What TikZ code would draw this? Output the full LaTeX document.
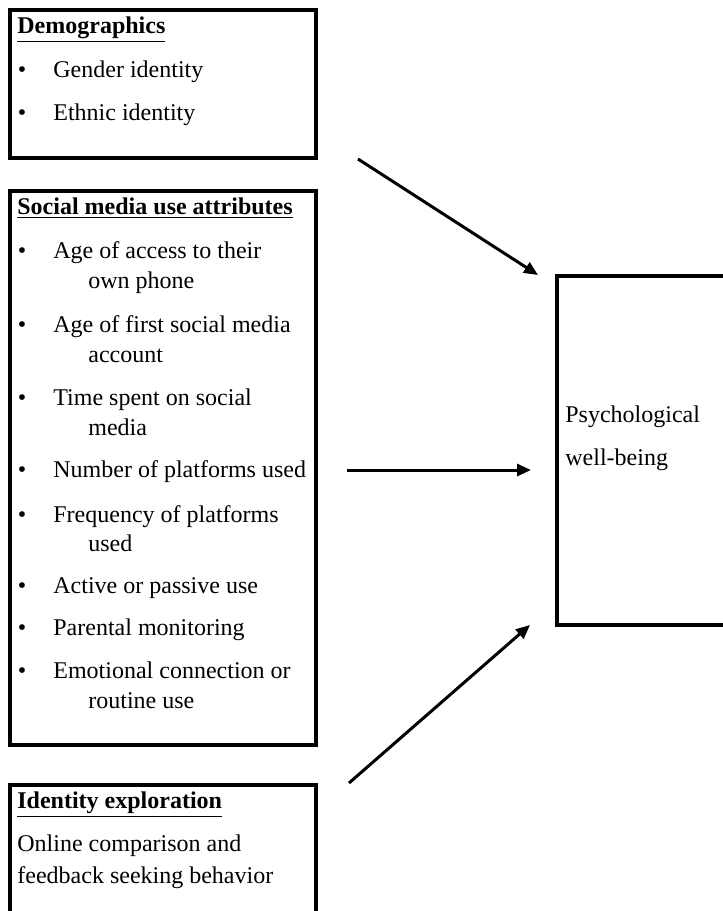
\documentclass[tikz,border=0pt]{standalone}
\usepackage{fontspec}
\setmainfont{Liberation Serif}
\usetikzlibrary{arrows.meta}
\begin{document}
\begin{tikzpicture}[x=0.5pt,y=-0.5pt,
  box/.style={draw, line width=2pt, inner sep=0pt, outer sep=0pt, anchor=north west},
  txt/.style={anchor=base west, inner sep=0pt, font=\fontsize{12}{15}\selectfont},
  ttl/.style={anchor=base west, inner sep=0pt, font=\fontsize{12}{15}\selectfont\bfseries},
  bul/.style={anchor=base, inner sep=0pt, font=\fontsize{12}{15}\selectfont},
  conn/.style={line width=1.5pt, -{Triangle[length=7pt,width=6pt]}}]
\useasboundingbox (0,0) rectangle (723,911);
\clip (0,0) rectangle (723,911);
% boxes
\node[box, minimum width=152.75pt, minimum height=74pt] (demo) at (10,10) {};
\node[box, minimum width=152.75pt, minimum height=276.75pt] (smu) at (10,191) {};
\node[box, minimum width=152.75pt, minimum height=75pt] (idx) at (10,785) {};
\node[box, minimum width=91.75pt, minimum height=174.5pt] (psy) at (556.5,275.5) {};
% Demographics
\node[ttl] (t1) at (17,33) {\underline{Demographics}};
\node[bul] (b11) at (22,77) {\textbullet};
\node[txt] (i11) at (53,77) {Gender identity};
\node[bul] (b12) at (22,120) {\textbullet};
\node[txt] (i12) at (53,120) {Ethnic identity};
% Social media use attributes
\node[ttl] (t2) at (17,214) {\underline{Social media use attributes}};
\node[bul] (b21) at (22,258) {\textbullet};
\node[txt] (i21) at (53,258) {Age of access to their};
\node[txt] (i21b) at (88,288) {own phone};
\node[bul] (b22) at (22,332) {\textbullet};
\node[txt] (i22) at (53,332) {Age of first social media};
\node[txt] (i22b) at (88,362) {account};
\node[bul] (b23) at (22,405) {\textbullet};
\node[txt] (i23) at (53,405) {Time spent on social};
\node[txt] (i23b) at (88,435) {media};
\node[bul] (b24) at (22,477) {\textbullet};
\node[txt] (i24) at (53,477) {Number of platforms used};
\node[bul] (b25) at (22,522) {\textbullet};
\node[txt] (i25) at (53,522) {Frequency of platforms};
\node[txt] (i25b) at (88,551) {used};
\node[bul] (b26) at (22,593) {\textbullet};
\node[txt] (i26) at (53,593) {Active or passive use};
\node[bul] (b27) at (22,635) {\textbullet};
\node[txt] (i27) at (53,635) {Parental monitoring};
\node[bul] (b28) at (22,678) {\textbullet};
\node[txt] (i28) at (53,678) {Emotional connection or};
\node[txt] (i28b) at (88,708) {routine use};
% Identity exploration
\node[ttl] (t3) at (17,808) {\underline{Identity exploration}};
\node[txt] (i31) at (17,851) {Online comparison and};
\node[txt] (i32) at (17,883) {feedback seeking behavior};
% Psychological well-being
\node[txt] (p1) at (565,422) {Psychological};
\node[txt] (p2) at (565,465) {well-being};
% arrows
\coordinate (a1s) at (358,159);
\coordinate (a1e) at (538,275);
\coordinate (a2s) at (347,470);
\coordinate (a2e) at (531,470);
\coordinate (a3s) at (349,783);
\coordinate (a3e) at (530,625);
\draw[conn] (a1s) -- (a1e);
\draw[conn] (a2s) -- (a2e);
\draw[conn] (a3s) -- (a3e);
\end{tikzpicture}
\end{document}
